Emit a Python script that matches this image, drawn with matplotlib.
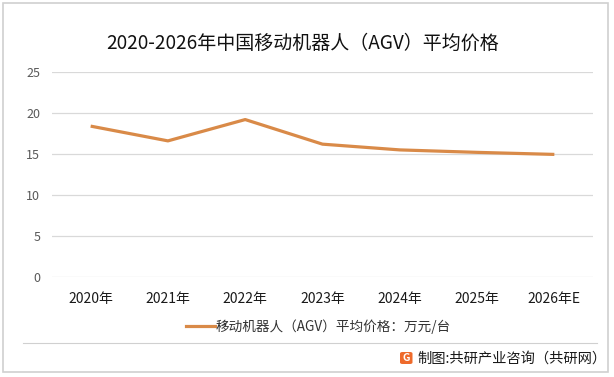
import matplotlib
matplotlib.use('Agg')
import matplotlib.pyplot as plt
from matplotlib.patches import Rectangle, FancyBboxPatch
from matplotlib.lines import Line2D

plt.rcParams['font.family'] = ['Noto Sans CJK SC', 'DejaVu Sans']

# --- data ---
YEARS = ['2020年', '2021年', '2022年', '2023年', '2024年', '2025年', '2026年E']
PRICES = [18.4, 16.6, 19.2, 16.2, 15.5, 15.2, 14.95]
Y_TICKS = [0, 5, 10, 15, 20, 25]

TITLE = '2020-2026年中国移动机器人（AGV）平均价格'
SERIES_NAME = '移动机器人（AGV）平均价格：万元/台'
SOURCE = '制图:共研产业咨询（共研网）'

LINE_COLOR = '#D98A48'
GRID_COLOR = '#D9D9D9'

W, H = 614, 377


def fx(px):
    return px / W


def fy(py):
    return 1 - py / H


fig = plt.figure(figsize=(W / 100, H / 100), dpi=100)
fig.patch.set_facecolor('white')

# outer frame
fig.add_artist(Rectangle((fx(2.5), fy(372)), fx(605), 369 / H, transform=fig.transFigure,
                         fill=False, edgecolor='#D0D0D0', linewidth=1.2))

ax = fig.add_axes([fx(52), fy(277), fx(541), 205 / H])
x = range(len(YEARS))
ax.plot(x, PRICES, color=LINE_COLOR, linewidth=2.3, solid_capstyle='butt', zorder=3)

ax.set_xlim(-0.5, len(YEARS) - 0.5)
ax.set_ylim(0, 25)
ax.set_yticks(Y_TICKS)
ax.set_xticks(list(x))
ax.set_xticklabels(YEARS)
ax.grid(axis='y', color=GRID_COLOR, linewidth=0.9)
ax.set_axisbelow(True)
for s in ax.spines.values():
    s.set_visible(False)
ax.tick_params(axis='both', length=0)
ax.tick_params(axis='y', pad=8.5, labelsize=9, labelcolor='#595959')
ax.tick_params(axis='x', pad=11, labelsize=10, labelcolor='#1a1a1a')

fig.text(fx(302.5), fy(43), TITLE, ha='center', va='center', fontsize=13.7, color='#111111')

# legend
fig.add_artist(Line2D([fx(186), fx(215)], [fy(326.3)] * 2, transform=fig.transFigure,
                      color=LINE_COLOR, linewidth=2.3))
fig.text(fx(216), fy(326.3), SERIES_NAME, ha='left', va='center', fontsize=9.8, color='#333333')

# separator
fig.add_artist(Line2D([fx(22.7), fx(596.7)], [fy(343.3)] * 2, transform=fig.transFigure,
                      color='#D0D0D0', linewidth=0.8))

# source with small logo
fig.add_artist(FancyBboxPatch((fx(400), fy(364)), fx(12.5), 12 / H,
                              boxstyle='round,pad=0,rounding_size=0.004',
                              transform=fig.transFigure, facecolor='#EE6A2B', edgecolor='none'))
fig.text(fx(406.3), fy(358.2), 'G', ha='center', va='center', fontsize=7.5,
         fontweight='bold', color='white')
fig.text(fx(417), fy(359), SOURCE, ha='left', va='center', fontsize=10.3, color='#1a1a1a')

fig.savefig('out.png', dpi=100)
